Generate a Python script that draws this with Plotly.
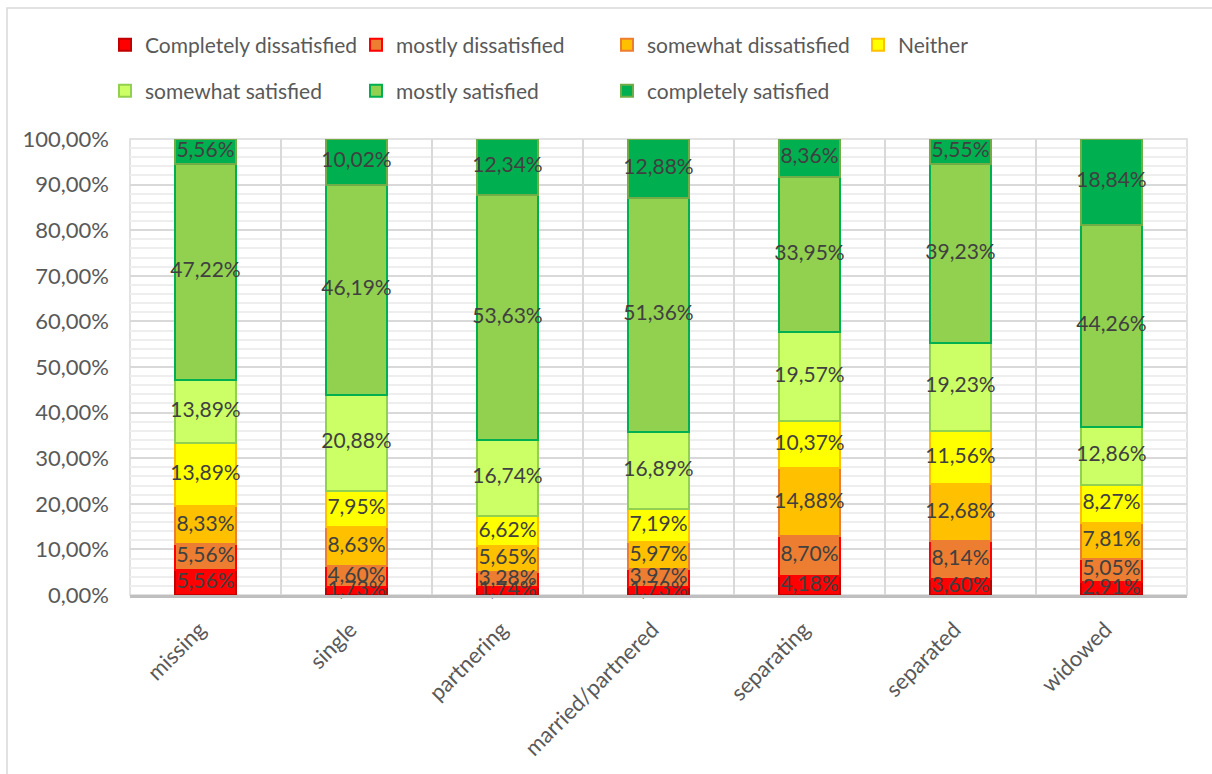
import plotly.graph_objects as go

# Relationship status groups along the x axis
categories = ["missing", "single", "partnering", "married/partnered",
              "separating", "separated", "widowed"]

# Share of respondents (percent) per satisfaction level, bottom to top of each stack
completely_dissatisfied = [5.56, 1.73, 1.74, 1.73, 4.18, 3.60, 2.91]
mostly_dissatisfied = [5.56, 4.60, 3.28, 3.97, 8.70, 8.14, 5.05]
somewhat_dissatisfied = [8.33, 8.63, 5.65, 5.97, 14.88, 12.68, 7.81]
neither = [13.89, 7.95, 6.62, 7.19, 10.37, 11.56, 8.27]
somewhat_satisfied = [13.89, 20.88, 16.74, 16.89, 19.57, 19.23, 12.86]
mostly_satisfied = [47.22, 46.19, 53.63, 51.36, 33.95, 39.23, 44.26]
completely_satisfied = [5.56, 10.02, 12.34, 12.88, 8.36, 5.55, 18.84]

series_names = ["Completely dissatisfied", "mostly dissatisfied", "somewhat dissatisfied",
                "Neither", "somewhat satisfied", "mostly satisfied", "completely satisfied"]
series_values = [completely_dissatisfied, mostly_dissatisfied, somewhat_dissatisfied,
                 neither, somewhat_satisfied, mostly_satisfied, completely_satisfied]

fills = ["#FF0000", "#ED7D31", "#FFC000", "#FFFF00", "#CCFF66", "#92D050", "#00B050"]
edges = ["#C00000", "#FF0000", "#ED7D31", "#FFC000", "#92D050", "#00B050", "#70AD47"]
# first four entries on the upper legend row, the rest on the lower one
legend_ids = ["legend", "legend", "legend", "legend", "legend2", "legend2", "legend2"]

FONT = "Lato"
W, H = 1212, 774
L, R, T, B = 130, 25, 139, 179
plot_w, plot_h = W - L - R, H - T - B

fig = go.Figure()

base = [0.0] * len(categories)
for name, vals, fc, ec, lg in zip(series_names, series_values, fills, edges, legend_ids):
    frac = [v / 100 for v in vals]
    fig.add_trace(go.Bar(
        x=categories, y=frac, name=name, legend=lg,
        marker=dict(color=fc, line=dict(color=ec, width=2)),
        hoverinfo="skip",
    ))
    # value labels centred on each segment
    mids = [b + f / 2 for b, f in zip(base, frac)]
    fig.add_trace(go.Scatter(
        x=categories, y=mids, mode="text", showlegend=False,
        text=[f"{v:.2f}%".replace(".", ",") for v in vals],
        textfont=dict(family=FONT, size=21, color="#404040"),
        cliponaxis=False, hoverinfo="skip",
    ))
    base = [b + f for b, f in zip(base, frac)]

legend_common = dict(
    orientation="h", xanchor="left", yanchor="middle", traceorder="normal",
    x=(105 - L) / plot_w, entrywidth=206, entrywidthmode="pixels",
    font=dict(family=FONT, size=21, color="#595959"),
    bgcolor="rgba(0,0,0,0)", itemclick=False, itemdoubleclick=False,
)

fig.update_layout(
    width=W, height=H,
    margin=dict(l=L, r=R, t=T, b=B),
    paper_bgcolor="white", plot_bgcolor="white",
    barmode="stack", bargap=0.59,
    separators=",.",
    font=dict(family=FONT, size=22, color="#595959"),
    legend=dict(y=(H - B - 45) / plot_h, **legend_common),
    legend2=dict(y=(H - B - 91) / plot_h, **legend_common),
    xaxis=dict(
        type="category", tickson="boundaries", ticks="",
        tickangle=-45, showgrid=True, gridcolor="#D9D9D9", gridwidth=1.5,
        showline=True, linecolor="#BFBFBF", linewidth=3,
        tickfont=dict(family=FONT, size=22, color="#595959"),
        ticklabelshift=-6, ticklabelstandoff=10,
        range=[-0.5, len(categories) - 0.5],
    ),
    yaxis=dict(
        range=[0, 1], dtick=0.1, tickformat=".2%",
        showgrid=True, gridcolor="#D9D9D9", gridwidth=1.5,
        minor=dict(dtick=0.02, showgrid=True, gridcolor="#EEEEEE", gridwidth=1.5),
        zeroline=False, ticks="", ticklabelstandoff=20,
        tickfont=dict(family=FONT, size=22, color="#595959"),
    ),
    shapes=[
        # plot-area frame
        dict(type="rect", xref="paper", yref="paper", x0=0, x1=1, y0=0, y1=1,
             line=dict(color="#D9D9D9", width=1.5), layer="below"),
        # chart-area frame
        dict(type="rect", xref="paper", yref="paper",
             x0=(7 - L) / plot_w, x1=(W + 5 - L) / plot_w,
             y0=-(B + 10) / plot_h, y1=(H - B - 8) / plot_h,
             line=dict(color="#D9D9D9", width=1.5), layer="below"),
    ],
)

fig.write_html("out.html")
